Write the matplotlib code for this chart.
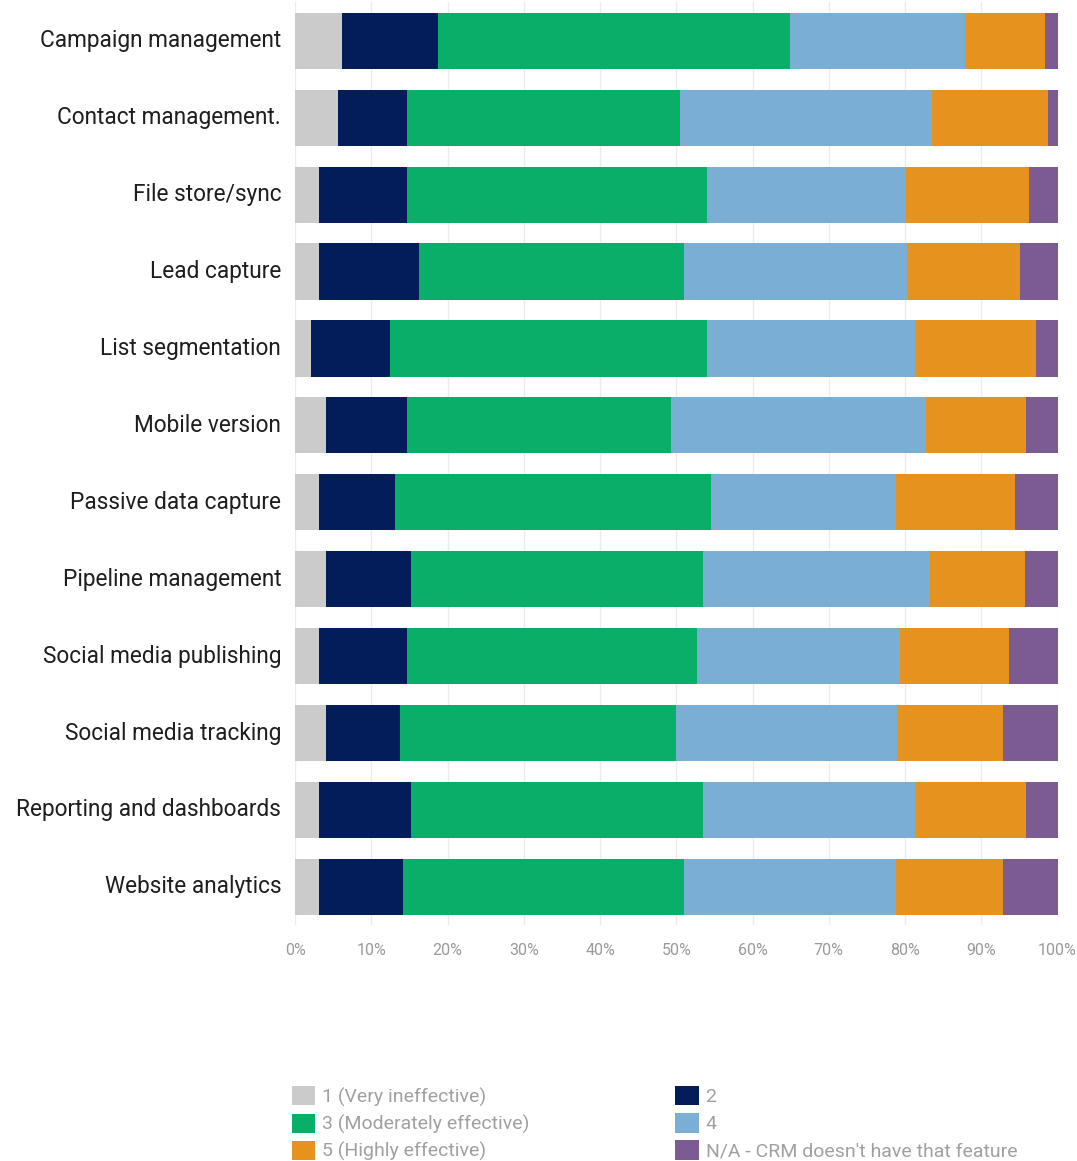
import numpy as np
import matplotlib.pyplot as plt
from matplotlib.patches import FancyBboxPatch
from matplotlib.legend_handler import HandlerPatch
from matplotlib.ticker import PercentFormatter

plt.rcParams['font.family'] = ['Roboto', 'DejaVu Sans']

features = [
    "Campaign management",
    "Contact management.",
    "File store/sync",
    "Lead capture",
    "List segmentation",
    "Mobile version",
    "Passive data capture",
    "Pipeline management",
    "Social media publishing",
    "Social media tracking",
    "Reporting and dashboards",
    "Website analytics",
]

# share of respondents per rating, in percent
very_ineffective = [6.2, 5.6, 3.1, 3.1, 2.1, 4.1, 3.1, 4.1, 3.1, 4.1, 3.1, 3.1]
rating_2 = [12.5, 9.1, 11.6, 13.2, 10.4, 10.6, 10.0, 11.1, 11.6, 9.7, 12.1, 11.1]
moderately = [46.2, 35.8, 39.3, 34.7, 41.5, 34.6, 41.4, 38.3, 38.0, 36.1, 38.3, 36.8]
rating_4 = [22.9, 33.0, 26.1, 29.3, 27.3, 33.5, 24.3, 29.7, 26.6, 29.1, 27.8, 27.8]
highly = [10.6, 15.2, 16.1, 14.8, 15.9, 13.1, 15.6, 12.5, 14.3, 13.9, 14.6, 14.1]
not_available = [1.6, 1.3, 3.8, 4.9, 2.8, 4.1, 5.6, 4.3, 6.4, 7.1, 4.1, 7.1]

series = [
    ("1 (Very ineffective)", very_ineffective, "#cbcbcb"),
    ("2", rating_2, "#021d5a"),
    ("3 (Moderately effective)", moderately, "#09ae68"),
    ("4", rating_4, "#7aaed5"),
    ("5 (Highly effective)", highly, "#e5921f"),
    ("N/A - CRM doesn't have that feature", not_available, "#7c5b93"),
]


def rounded_square(legend, orig_handle, xdescent, ydescent, width, height, fontsize):
    # legend swatch with softened corners
    return FancyBboxPatch((-xdescent, -ydescent), width, height,
                          boxstyle="round,pad=0,rounding_size=3")


fig = plt.figure(figsize=(10.77, 11.61), dpi=100)
ax = fig.add_axes([0.274, 0.203, 0.708, 0.795])

y = np.arange(len(features))
left = np.zeros(len(features))
bars = {}
for label, vals, color in series:
    vals = np.array(vals)
    bars[label] = ax.barh(y, vals, left=left, height=0.73, color=color, label=label)
    left += vals

ax.set_xlim(0, 100)
ax.set_ylim(len(features) - 0.5, -0.5)
ax.set_yticks(y)
ax.set_yticklabels(features, fontsize=16.3, color="#1e1e1e", va="center")
ax.set_xticks(np.arange(0, 101, 10))
ax.xaxis.set_major_formatter(PercentFormatter(decimals=0))
ax.tick_params(axis="x", labelsize=11.5, colors="#9a9a9a", length=0, pad=13)
ax.tick_params(axis="y", length=0, pad=10)
ax.grid(axis="x", color="#ececec", linewidth=1)
ax.set_axisbelow(True)
for s in ax.spines.values():
    s.set_visible(False)

# legend: columns read 1/3/5 then 2/4/N/A
order = [0, 2, 4, 1, 3, 5]
handles = [bars[series[i][0]] for i in order]
labels = [series[i][0] for i in order]
leg = fig.legend(handles, labels, loc="upper left", bbox_to_anchor=(0.255, 0.0795),
                 ncol=2, frameon=False, fontsize=14, handlelength=1.2,
                 handleheight=1.15, handletextpad=0.35, labelspacing=0.35,
                 columnspacing=7.5,
                 handler_map={type(bars[series[0][0]].patches[0]): HandlerPatch(patch_func=rounded_square)})
for t in leg.get_texts():
    t.set_color("#a0a0a0")

fig.savefig("out.png", dpi=100, facecolor="white")
